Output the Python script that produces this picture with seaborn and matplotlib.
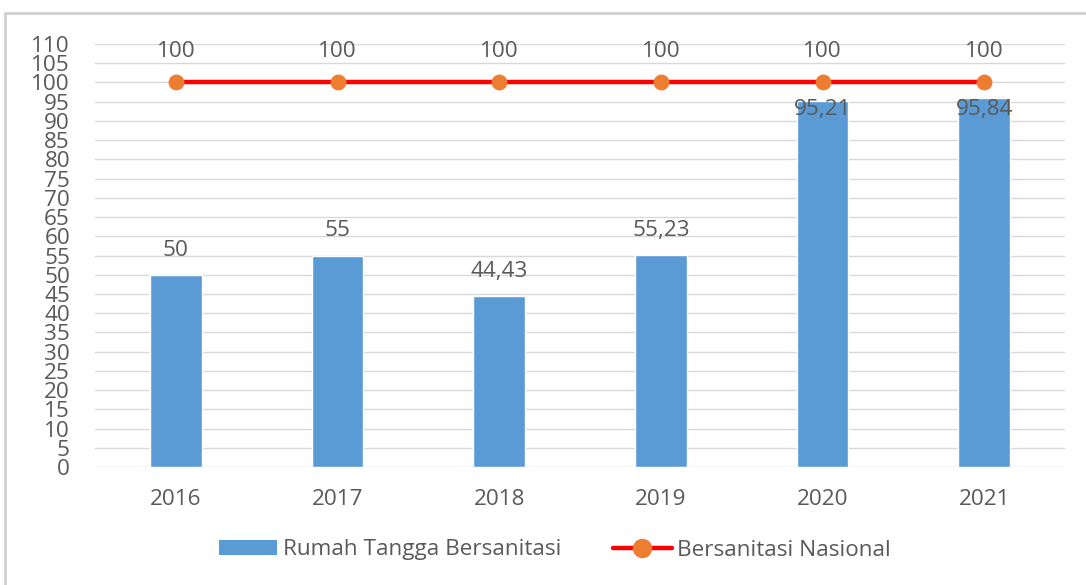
import matplotlib
matplotlib.use("Agg")
import matplotlib.pyplot as plt
from matplotlib.patches import Rectangle
from matplotlib.lines import Line2D
import seaborn as sns
import pandas as pd

# Data
years = ["2016", "2017", "2018", "2019", "2020", "2021"]
rumah_tangga = [50, 55, 44.43, 55.23, 95.21, 95.84]
nasional = [100, 100, 100, 100, 100, 100]
y_ticks = list(range(0, 111, 5))

bar_label = "Rumah Tangga Bersanitasi"
line_label = "Bersanitasi Nasional"

BAR_COLOR = "#5B9BD5"
LINE_COLOR = "#FF0000"
MARKER_COLOR = "#ED7D31"
TEXT_COLOR = "#595959"
GRID_COLOR = "#D9D9D9"
FS = 16.2

sns.set_theme(style="white")
plt.rcParams["font.family"] = ["Open Sans", "DejaVu Sans"]

df = pd.DataFrame({"year": years, "rumah": rumah_tangga, "nasional": nasional})

fig = plt.figure(figsize=(10.86, 5.85), dpi=100)
ax = fig.add_axes([95 / 1086, 118 / 585, 970 / 1086, 423 / 585])

# Gridlines behind everything
for t in y_ticks:
    ax.axhline(t, color=GRID_COLOR, lw=1, zorder=0)

sns.barplot(data=df, x="year", y="rumah", color=BAR_COLOR, width=0.32,
            saturation=1, ax=ax, zorder=2)
sns.pointplot(data=df, x="year", y="nasional", color=LINE_COLOR, ax=ax,
              markers="o", linewidth=3.2, markersize=9, zorder=3)
for ln in ax.lines:
    if ln.get_marker() == "o":
        ln.set_markerfacecolor(MARKER_COLOR)
        ln.set_markeredgecolor(MARKER_COLOR)
        ln.set_zorder(3)

# Value labels
for i, v in enumerate(rumah_tangga):
    ypos = min(v + 6.4, 93.0)
    ax.text(i, ypos, f"{v:g}".replace(".", ","), ha="center", va="center",
            fontsize=FS, color=TEXT_COLOR, zorder=4)
for i, v in enumerate(nasional):
    ax.text(i, v + 8.0, f"{v:g}", ha="center", va="center",
            fontsize=FS, color=TEXT_COLOR, zorder=4)

ax.set_xlim(-0.5, len(years) - 0.5)
ax.set_ylim(0, 110)
ax.set_yticks(y_ticks)
ax.set_yticklabels([str(t) for t in y_ticks])
ax.tick_params(axis="y", labelsize=FS, colors=TEXT_COLOR, length=0, pad=18)
ax.tick_params(axis="x", labelsize=FS, colors=TEXT_COLOR, length=0, pad=16)
ax.set_xlabel("")
ax.set_ylabel("")
for s in ax.spines.values():
    s.set_visible(False)
ax.grid(False)

# Legend
handles = [
    Rectangle((0, 0), 1, 1, facecolor=BAR_COLOR, edgecolor="none"),
    Line2D([0], [0], color=LINE_COLOR, lw=3.2, marker="o", markersize=13,
           markerfacecolor=MARKER_COLOR, markeredgecolor=MARKER_COLOR),
]
fig.legend(handles, [bar_label, line_label], loc="center",
           bbox_to_anchor=(555 / 1086, 35 / 585), ncol=2, frameon=False,
           fontsize=FS, labelcolor=TEXT_COLOR, handlelength=2.6,
           handleheight=0.6, handletextpad=0.25, columnspacing=2.3)

# Chart frame
fig.patches.append(Rectangle((5 / 1086, -0.05), 1.2, 1 - 13 / 585 + 0.05,
                             transform=fig.transFigure, fill=False,
                             edgecolor="#D0D0D0", lw=2, zorder=0))

fig.savefig("out.png", dpi=100)
